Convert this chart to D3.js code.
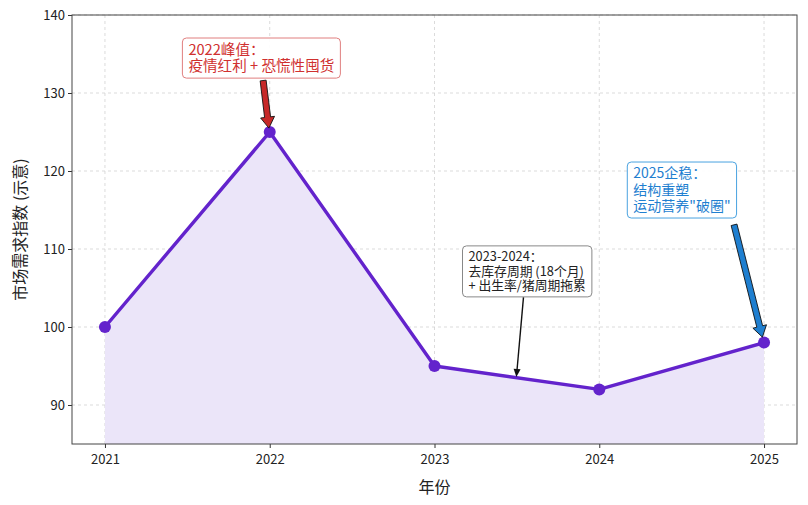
<!DOCTYPE html>
<html>
<head>
<meta charset="utf-8">
<script src="https://cdn.jsdelivr.net/npm/d3@7"></script>
<style>
  body { margin: 0; background: #fff; }
  text { font-family: "Noto Sans CJK SC", "Noto Sans", sans-serif; }
</style>
</head>
<body>
<svg id="chart" width="808" height="505"></svg>
<script>
// 数据
const years = [2021, 2022, 2023, 2024, 2025]
const demand = [100, 125, 95, 92, 98]
const yTicks = [90, 100, 110, 120, 130, 140]

// 标注 (box = 文本框左上角, tail = 箭头起点, at = 箭头指向)
const notes = [
  { lines: ["2022峰值：", "疫情红利 + 恐慌性囤货"], at: [2021.995, 125.5], box: [2021.47, 137.05], tail: [2021.96, 131.6], color: "#d0302f", border: "#e07f7f", arrow: "fat", fill: "#c62828", size: 14.6, lh: 16.5 },
  { lines: ["2023-2024：", "去库存周期 (18个月)", "+ 出生率/猪周期拖累"], at: [2023.497, 93.6], box: [2023.17, 110.4], tail: [2023.54, 103.8], color: "#222", border: "#888", arrow: "thin", size: 12.8, lh: 14.6 },
  { lines: ["2025企稳：", "结构重塑", "运动营养\"破圈\""], at: [2024.99, 98.7], box: [2024.17, 121.15], tail: [2024.818, 113.1], color: "#1f7fd0", border: "#4aa3e0", arrow: "fat", fill: "#1f7fd0", size: 14, lh: 16.5 }
]

const svg = d3.select("#chart")
const m = { left: 72, right: 11, top: 15, bottom: 61 }
const W = 808, H = 505

const x = d3.scaleLinear().domain([2020.8, 2025.2]).range([m.left, W - m.right])
const y = d3.scaleLinear().domain([85, 140]).range([H - m.bottom, m.top])

// 网格
svg.append("g").selectAll("line.gx").data(years).enter().append("line")
  .attr("x1", d => x(d)).attr("x2", d => x(d))
  .attr("y1", y(85)).attr("y2", y(140))
  .attr("stroke", "#d2d2d2").attr("stroke-dasharray", "3,3").attr("stroke-width", 0.8)
svg.append("g").selectAll("line.gy").data(yTicks).enter().append("line")
  .attr("x1", x(2020.8)).attr("x2", x(2025.2))
  .attr("y1", d => y(d)).attr("y2", d => y(d))
  .attr("stroke", "#d2d2d2").attr("stroke-dasharray", "3,3").attr("stroke-width", 0.8)

const pts = years.map((yr, i) => [yr, demand[i]])

// 面积
svg.append("path")
  .datum(pts)
  .attr("d", d3.area().x(d => x(d[0])).y0(y(85)).y1(d => y(d[1])))
  .attr("fill", "#ebe5f9")

svg.append("path")
  .datum(pts)
  .attr("d", d3.line().x(d => x(d[0])).y(d => y(d[1])))
  .attr("fill", "none").attr("stroke", "#6323cc").attr("stroke-width", 3.4)
  .attr("stroke-linejoin", "round")

svg.append("g").selectAll("circle").data(pts).enter().append("circle")
  .attr("cx", d => x(d[0])).attr("cy", d => y(d[1])).attr("r", 6)
  .attr("fill", "#6323cc")

// 坐标轴
const xAxis = svg.append("g").attr("transform", `translate(0,${y(85)})`)
  .call(d3.axisBottom(x).tickValues(years).tickFormat(d3.format("d")).tickSize(4).tickSizeOuter(0))
const yAxis = svg.append("g").attr("transform", `translate(${x(2020.8)},0)`)
  .call(d3.axisLeft(y).tickValues(yTicks).tickSize(4).tickSizeOuter(0))
;[xAxis, yAxis].forEach(g => {
  g.select(".domain").remove()
  g.selectAll(".tick line").attr("stroke", "#333")
  g.selectAll(".tick text").attr("font-size", 13).attr("fill", "#222")
    .style("font-family", "'Noto Sans CJK SC', sans-serif")
})
xAxis.selectAll(".tick text").attr("dy", "1.0em")

svg.append("rect")
  .attr("x", x(2020.8)).attr("y", y(140))
  .attr("width", x(2025.2) - x(2020.8)).attr("height", y(85) - y(140))
  .attr("fill", "none").attr("stroke", "#444").attr("stroke-width", 1)

svg.append("text").attr("x", (x(2020.8) + x(2025.2)) / 2).attr("y", 493)
  .attr("text-anchor", "middle").attr("font-size", 16).attr("fill", "#222").text("年份")
svg.append("text")
  .attr("transform", `translate(26,${(y(85) + y(140)) / 2}) rotate(-90)`)
  .attr("text-anchor", "middle").attr("font-size", 16).attr("fill", "#222").text("市场需求指数 (示意)")

// 箭头
function fatArrow(x0, y0, x1, y1, fill) {
  const dx = x1 - x0, dy = y1 - y0, L = Math.hypot(dx, dy)
  const ux = dx / L, uy = dy / L, px = -uy, py = ux
  const hw = 3, hl = 11, hh = 7
  const bx = x1 - ux * hl, by = y1 - uy * hl
  const p = [
    [x0 + px * hw, y0 + py * hw], [bx + px * hw, by + py * hw], [bx + px * hh, by + py * hh],
    [x1, y1], [bx - px * hh, by - py * hh], [bx - px * hw, by - py * hw], [x0 - px * hw, y0 - py * hw]
  ]
  svg.append("polygon").attr("points", p.map(q => q.join(",")).join(" "))
    .attr("fill", fill).attr("stroke", "#111").attr("stroke-width", 0.9)
}
function thinArrow(x0, y0, x1, y1) {
  const dx = x1 - x0, dy = y1 - y0, L = Math.hypot(dx, dy)
  const ux = dx / L, uy = dy / L, px = -uy, py = ux
  const hl = 8, hh = 3.5
  const bx = x1 - ux * hl, by = y1 - uy * hl
  svg.append("line").attr("x1", x0).attr("y1", y0).attr("x2", bx).attr("y2", by)
    .attr("stroke", "#111").attr("stroke-width", 1.4)
  svg.append("polygon")
    .attr("points", [[x1, y1], [bx + px * hh, by + py * hh], [bx - px * hh, by - py * hh]].map(q => q.join(",")).join(" "))
    .attr("fill", "#111")
}

notes.forEach(n => {
  const g = svg.append("g")
  const bx = x(n.box[0]), by = y(n.box[1])
  const tx = bx + 6, ty = by + 3.5 + n.size * 0.92
  const t = g.append("text").attr("font-size", n.size).attr("fill", n.color)
  n.lines.forEach((s, i) => {
    t.append("tspan").attr("x", tx).attr("y", ty + i * n.lh).text(s)
  })
  const bb = t.node().getBBox()
  g.insert("rect", "text")
    .attr("x", bx).attr("y", by)
    .attr("width", bb.x + bb.width + 6 - bx).attr("height", (n.lines.length - 1) * n.lh + n.size + 9)
    .attr("rx", 4).attr("fill", "#fff").attr("fill-opacity", 0.9)
    .attr("stroke", n.border).attr("stroke-width", 1)
  const x0 = x(n.tail[0]), y0 = y(n.tail[1]), x1 = x(n.at[0]), y1 = y(n.at[1])
  if (n.arrow === "fat") fatArrow(x0, y0, x1, y1, n.fill)
  else thinArrow(x0, y0, x1, y1)
})
</script>
</body>
</html>
